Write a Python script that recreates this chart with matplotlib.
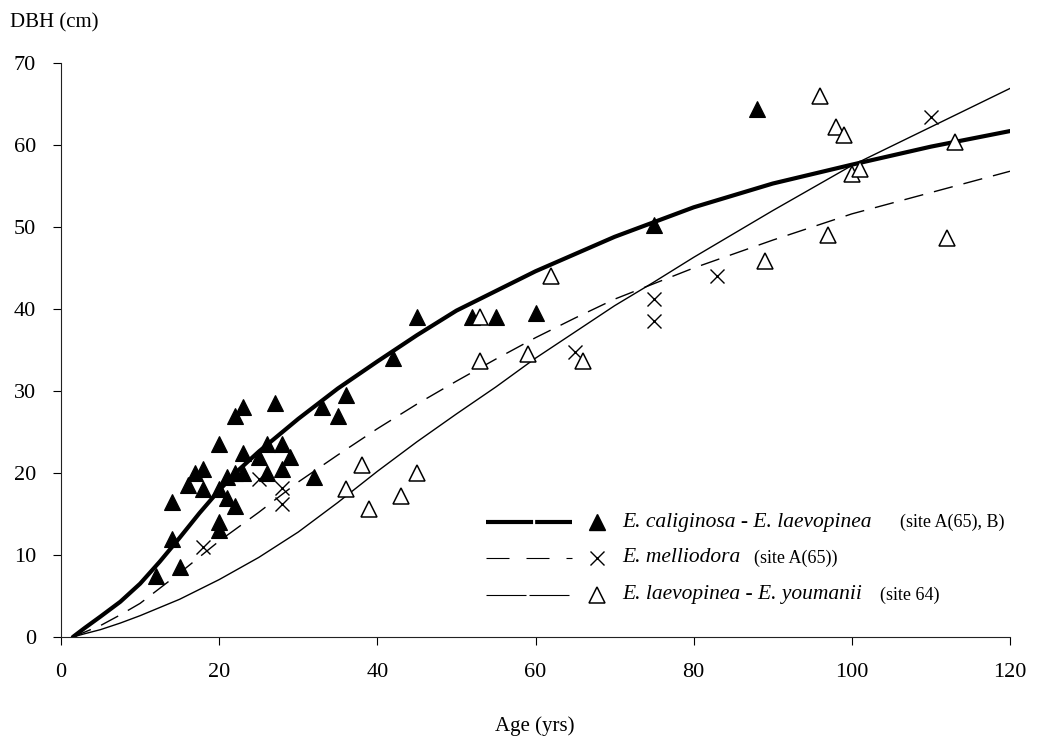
import matplotlib
matplotlib.use("Agg")
import matplotlib.pyplot as plt
from matplotlib.lines import Line2D

plt.rcParams['font.family'] = ['Liberation Serif', 'DejaVu Serif']

# Observed trees: age (yrs) and DBH (cm)
cal_age = [12, 14, 14, 15, 16, 17, 18, 18, 20, 20, 20, 20, 21, 21, 22, 22, 22, 23, 23, 23,
           25, 26, 26, 27, 28, 28, 29, 32, 33, 35, 36, 42, 45, 52, 55, 60, 75, 88]
cal_dbh = [7.5, 12, 16.5, 8.5, 18.5, 20, 20.5, 18, 23.5, 18, 14, 13, 19.5, 17, 27, 20, 16, 28, 22.5, 20,
           22, 23.5, 20, 28.5, 23.5, 20.5, 22, 19.5, 28, 27, 29.5, 34, 39, 39, 39, 39.5, 50.3, 64.4]

mel_age = [18, 25, 28, 28, 65, 75, 75, 83, 110]
mel_dbh = [11, 19.3, 18.2, 16.2, 34.7, 41.2, 38.5, 44, 63.4]

you_age = [36, 38, 39, 43, 45, 53, 53, 59, 62, 66, 89, 96, 97, 98, 99, 100, 101, 112, 113]
you_dbh = [18, 21, 15.6, 17.2, 20, 39, 33.6, 34.5, 44, 33.6, 45.8, 66, 49, 62.2, 61.2, 56.5, 57.1, 48.7, 60.4]

# Fitted growth curves
cal_fit_age = [1.5, 3, 5, 7.5, 10, 12.5, 15, 17.5, 20, 22.5, 25, 30, 35, 40, 45, 50, 60, 70, 80, 90, 100, 110, 120]
cal_fit_dbh = [0, 1.1, 2.5, 4.3, 6.5, 9.2, 12.1, 15.1, 17.9, 20.4, 22.6, 26.6, 30.3, 33.6, 36.8, 39.8,
               44.6, 48.8, 52.4, 55.3, 57.6, 59.8, 61.7]

mel_fit_age = [1.5, 3, 5, 7.5, 10, 15, 20, 25, 30, 35, 40, 45, 50, 55, 60, 65, 70, 80, 90, 100, 110, 120]
mel_fit_dbh = [0, 0.6, 1.4, 2.7, 4.1, 7.8, 11.7, 15.2, 18.9, 22.2, 25.4, 28.4, 31.2, 33.9, 36.5, 38.9,
               41.2, 45.0, 48.4, 51.6, 54.2, 56.8]

you_fit_age = [1.5, 3, 5, 7.5, 10, 15, 20, 25, 30, 35, 40, 45, 50, 55, 60, 65, 70, 75, 80, 90, 100, 110, 120]
you_fit_dbh = [0, 0.4, 0.9, 1.7, 2.6, 4.6, 7.0, 9.7, 12.8, 16.4, 20.2, 23.8, 27.2, 30.5, 34.0, 37.2,
               40.4, 43.3, 46.3, 52.0, 57.5, 62.2, 66.9]

x_ticks = [0, 20, 40, 60, 80, 100, 120]
y_ticks = [0, 10, 20, 30, 40, 50, 60, 70]

legend_names = ['E. caliginosa - E. laevopinea', 'E. melliodora', 'E. laevopinea - E. youmanii']
legend_sites = ['(site A(65), B)', '(site A(65))', '(site 64)']

W, H = 1043, 737
fig = plt.figure(figsize=(W / 100, H / 100), dpi=100)
ax = fig.add_axes([61 / W, 1 - 637 / H, (1010 - 61) / W, (637 - 63) / H])

ax.plot(cal_fit_age, cal_fit_dbh, color='black', lw=3.0, solid_capstyle='round',
        solid_joinstyle='round', zorder=3)
ax.plot(mel_fit_age, mel_fit_dbh, color='black', lw=1.0, dashes=(14, 8), zorder=3)
ax.plot(you_fit_age, you_fit_dbh, color='black', lw=1.0, zorder=3)

ax.plot(cal_age, cal_dbh, linestyle='none', marker='^', ms=11, mfc='black', mec='black', mew=0.8, zorder=4)
ax.plot(mel_age, mel_dbh, linestyle='none', marker='x', ms=10, mec='black', mew=1.0, zorder=4)
ax.plot(you_age, you_dbh, linestyle='none', marker='^', ms=11, mfc='white', mec='black', mew=1.1, zorder=4)

ax.set_xlim(0, 120)
ax.set_ylim(0, 70)
ax.set_xticks(x_ticks)
ax.set_yticks(y_ticks)
ax.spines['top'].set_visible(False)
ax.spines['right'].set_visible(False)
for side in ('left', 'bottom'):
    ax.spines[side].set_linewidth(0.8)
    ax.spines[side].set_color('#222222')
ax.tick_params(axis='both', direction='out', length=6, width=0.8, labelsize=16)
ax.tick_params(axis='y', pad=12)
ax.tick_params(axis='x', pad=13)

fig.text(10 / W, 1 - 23 / H, 'DBH (cm)', fontsize=15, va='center', ha='left')
fig.text(535 / W, 1 - 726 / H, 'Age (yrs)', fontsize=15, va='center', ha='center')

# Legend drawn by hand so the site notes can use a smaller upright face
def ax_x(px):
    return (px - 61) / (1010 - 61)

def ax_y(py):
    return (637 - py) / (637 - 63)

line_styles = [
    dict(color='black', lw=3.0, dashes=(11.3, 0.5)),
    dict(color='black', lw=0.8, dashes=(20.7, 15.3)),
    dict(color='black', lw=0.8, dashes=(36, 2.7)),
]
marker_styles = [
    dict(marker='^', ms=11, mfc='black', mec='black'),
    dict(marker='x', ms=10, mec='black', mew=1.0),
    dict(marker='^', ms=11, mfc='white', mec='black', mew=1.1),
]
row_y = [522, 558, 595]
gaps = [28, 14, 18]

fig.canvas.draw()
renderer = fig.canvas.get_renderer()
for i in range(3):
    y = ax_y(row_y[i])
    ax.add_line(Line2D([ax_x(486), ax_x(572)], [y, y], transform=ax.transAxes,
                       clip_on=False, **line_styles[i]))
    ax.add_line(Line2D([ax_x(597)], [y], transform=ax.transAxes, clip_on=False,
                       linestyle='none', **marker_styles[i]))
    t = ax.text(ax_x(622), y, legend_names[i], transform=ax.transAxes, fontsize=15.5,
                style='italic', va='center', ha='left')
    right_px = t.get_window_extent(renderer).x1
    ax.text(ax_x(right_px + gaps[i]), y, legend_sites[i], transform=ax.transAxes,
            fontsize=13, va='center', ha='left')

fig.savefig('out.png', dpi=100, facecolor='white')
